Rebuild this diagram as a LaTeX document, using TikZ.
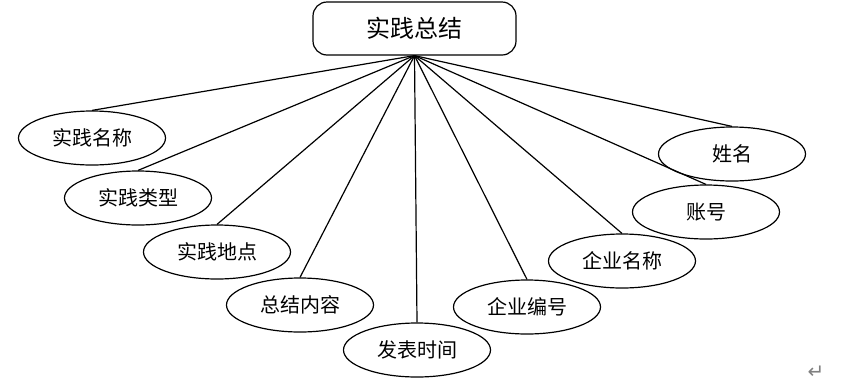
\documentclass[tikz,border=0pt]{standalone}
\usepackage{fontspec}
\usetikzlibrary{shapes.geometric}
\newfontfamily\cjk{Noto Sans CJK SC}
\newfontfamily\symfont{DejaVu Sans}

\begin{document}
\begin{tikzpicture}[x=1pt, y=-1pt, line width=1.2pt,
  entity/.style={draw, rounded corners=14pt, minimum width=203pt, minimum height=53pt, inner sep=0pt, font=\cjk\fontsize{24}{24}\selectfont},
  attr/.style={draw, ellipse, minimum width=147pt, minimum height=54pt, inner sep=0pt, font=\cjk\fontsize{20}{20}\selectfont}]
  \useasboundingbox (0,0) rectangle (851,389);

  % Entity
  \node[entity] (zj) at (414.5, 28.5) {实践总结};

  % Attributes, left side
  \node[attr] (mc) at (92, 138) {实践名称};
  \node[attr] (lx) at (138, 198) {实践类型};
  \node[attr] (dd) at (217, 252) {实践地点};
  \node[attr] (nr) at (300, 305) {总结内容};
  \node[attr] (sj) at (417, 350) {发表时间};

  % Attributes, right side
  \node[attr] (bh) at (527, 307) {企业编号};
  \node[attr] (qm) at (622, 261) {企业名称};
  \node[attr] (zh) at (706, 212) {账号};
  \node[attr] (xm) at (732, 154) {姓名};

  % Links
  \foreach \a in {mc, lx, dd, nr, sj, bh, qm, zh, xm}
    \draw (zj.south) -- (\a.north);

  % Paragraph mark
  \node[gray, font=\symfont\fontsize{20}{20}\selectfont] (pm) at (816, 372) {↵};
\end{tikzpicture}
\end{document}
